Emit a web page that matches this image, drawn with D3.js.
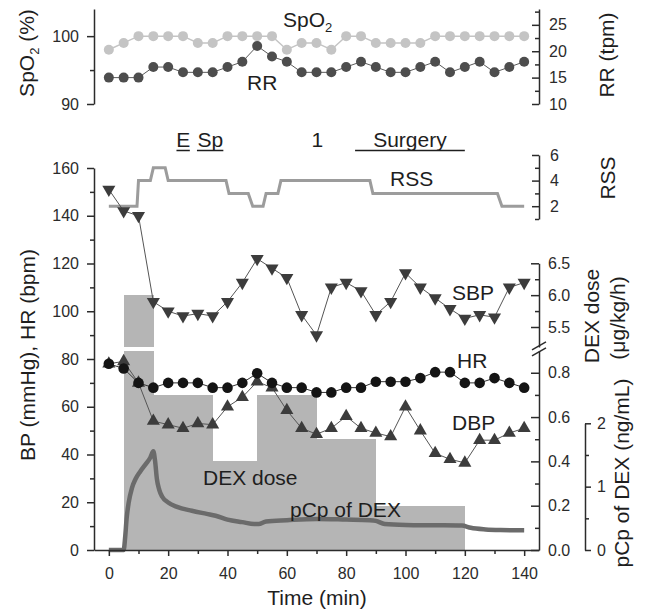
<!DOCTYPE html>
<html>
<head>
<meta charset="utf-8">
<script src="https://cdn.jsdelivr.net/npm/d3@7"></script>
<style>
  body { margin: 0; background: #fff; }
  svg { font-family: "Liberation Sans", Arial, sans-serif; }
  .axis path, .axis line { stroke: #2b2b2b; stroke-width: 1.5; }
  .axis text { font-size: 16px; fill: #2b2b2b; }
  .label { font-size: 21px; fill: #1e1e1e; }
</style>
</head>
<body>
<svg id="chart" width="646" height="613"></svg>
<script>
// Sampling times (min), one reading every 5 min
const times = [0, 5, 10, 15, 20, 25, 30, 35, 40, 45, 50, 55, 60, 65, 70,
  75, 80, 85, 90, 95, 100, 105, 110, 115, 120, 125, 130, 135, 140];

// Top panel
const spo2 = [98, 99, 100, 100, 100, 100, 99, 99, 100, 100, 100, 100, 98, 99, 99,
  98, 100, 100, 99, 99, 99, 99, 100, 100, 100, 100, 100, 100, 100];
const rr = [15, 15, 15, 17, 17, 16, 16, 16, 17, 18, 21, 19, 18, 16, 16,
  16, 17, 18, 17, 16, 16, 17, 18, 16, 17, 18, 16, 17, 18];

// Main panel, mmHg / bpm
const sbp = [151, 142, 140, 104, 100, 98, 99, 98, 104, 112, 122, 118, 114, 98.5, 90,
  110, 112, 108.5, 98.5, 104, 116, 110, 105.5, 101, 97, 98.5, 97.5, 110, 112];
const dbp = [78, 79, 70, 54, 52.5, 51, 53, 52.5, 60, 64, 70.5, 68, 58.5, 51, 48.5,
  51, 56, 51, 49, 47.5, 60, 50, 40.5, 38, 36.5, 46, 46, 49, 51];
const hr = [78, 76, 70, 68, 70, 70, 70, 68, 68, 70, 74, 70, 68, 68, 66,
  66, 68, 68, 70.5, 70.5, 70.5, 72, 74.5, 74.5, 70, 70, 72, 70, 68];

// Ramsay sedation score, step trace
const rssTimes = [0, 9.5, 10, 14, 15, 19, 20, 39.5, 40.5, 47, 48.5, 52, 53, 57, 58,
  88, 89, 131, 132.5, 140];
const rssValues = [2, 2, 4, 4, 5, 5, 4, 4, 3, 3, 2, 2, 3, 3, 4, 4, 3, 3, 2, 2];

// DEX infusion rate (ug/kg/h)
const doseStart = [5, 15, 35, 50, 70, 90];
const doseEnd = [15, 35, 50, 70, 90, 120];
const doseRate = [6.0, 0.7, 0.4, 0.7, 0.5, 0.2];

// Predicted plasma concentration of DEX (ng/mL)
const pcpTimes = [0, 5, 5.5, 6, 6.7, 7.8, 9, 10.6, 12.5, 14, 15, 15.6, 16.2, 17, 18,
  20, 23, 28, 33, 36, 40, 45, 49, 50.5, 53, 60, 70, 80, 88, 90, 93, 100, 110, 119,
  122, 127, 132, 140];
const pcpValues = [0, 0, 0.2, 0.5, 0.75, 0.98, 1.12, 1.24, 1.36, 1.46, 1.56, 1.4, 1.12,
  0.95, 0.84, 0.75, 0.68, 0.62, 0.57, 0.54, 0.48, 0.44, 0.41, 0.41, 0.45, 0.47, 0.49,
  0.48, 0.47, 0.46, 0.41, 0.395, 0.39, 0.385, 0.35, 0.325, 0.315, 0.31];

// Procedure phases drawn above the main panel
const phaseText = ["E", "Sp", "1", "Surgery"];
const phaseFrom = [22.8, 29.7, null, 83];
const phaseTo = [27.3, 38.6, null, 120];
const phaseMid = [25.1, 34.2, 70.3, 101.5];

const svg = d3.select("#chart");

// Plot frame
const LEFT = 94, RIGHT = 539;
const x = d3.scaleLinear().domain([-5, 145]).range([LEFT, RIGHT]);

const ySpo2 = d3.scaleLinear().domain([90, 104]).range([104, 9]);
const yRR = d3.scaleLinear().domain([10, 28]).range([104, 9]);
const yBP = d3.scaleLinear().domain([0, 160]).range([550, 168]);
const yRSS = d3.scaleLinear().domain([1, 6]).range([219, 155]);
const yPcp = d3.scaleLinear().domain([0, 2]).range([550, 423.3]);
// DEX dose axis is broken in two pieces
const yDoseLo = d3.scaleLinear().domain([0, 0.9]).range([550, 350.6]);
const yDoseHi = d3.scaleLinear().domain([5.5, 6.5]).range([327, 263.3]);
const DOSE_HI_BOTTOM = 347;

function drawAxis(gen, scale, tx, ty, major, minor, size, minorSize, pad, fmt) {
  const g = svg.append("g").attr("class", "axis")
    .attr("transform", `translate(${tx},${ty})`);
  g.call(gen(scale).tickValues(major).tickSize(size).tickSizeOuter(0)
    .tickPadding(pad).tickFormat(fmt));
  if (minor.length) {
    g.append("g").call(gen(scale).tickValues(minor).tickSize(minorSize)
      .tickFormat(() => ""))
      .select(".domain").remove();
  }
  g.selectAll("text").attr("fill", "#2b2b2b").attr("font-size", 16);
  return g;
}

// ---------- Top panel: SpO2 and RR ----------
drawAxis(d3.axisLeft, ySpo2, LEFT, 0, [90, 100], [95], 7, 4, 8, d3.format("d"));
drawAxis(d3.axisRight, yRR, RIGHT, 0, [10, 15, 20, 25], [12.5, 17.5, 22.5, 27.5],
  -7, -4, 10, d3.format("d"));

function markerSeries(values, yScale, color, lineColor, lineWidth, symbolFn) {
  const pts = d3.zip(times, values);
  svg.append("path")
    .datum(pts)
    .attr("fill", "none")
    .attr("stroke", lineColor)
    .attr("stroke-width", lineWidth)
    .attr("d", d3.line().x((d) => x(d[0])).y((d) => yScale(d[1])));
  symbolFn(svg.append("g").selectAll().data(pts).join("path"), yScale, color);
}

const circle = (r) => (sel, yScale, color) => sel
  .attr("d", d3.symbol(d3.symbolCircle, Math.PI * r * r)())
  .attr("fill", color)
  .attr("transform", (d) => `translate(${x(d[0])},${yScale(d[1])})`);

const triangle = (down) => (sel, yScale, color) => sel
  .attr("d", d3.symbol(d3.symbolTriangle, 74)())
  .attr("fill", color)
  .attr("transform", (d) =>
    `translate(${x(d[0])},${yScale(d[1])})` + (down ? " rotate(180)" : ""));

markerSeries(spo2, ySpo2, "#c4c4c4", "#c4c4c4", 1.5, circle(5));
markerSeries(rr, yRR, "#4d4d4d", "#5a5a5a", 1, circle(5));

// ---------- Main panel ----------
// DEX dose bars, the first one crosses the axis break
const doseBars = d3.zip(doseStart, doseEnd, doseRate);
const gBars = svg.append("g").attr("fill", "#b5b5b5").attr("shape-rendering", "crispEdges");
doseBars.forEach(([s, e, v]) => {
  const loMax = yDoseLo.domain()[1];
  gBars.append("rect")
    .attr("x", x(s)).attr("width", x(e) - x(s) + 0.5)
    .attr("y", yDoseLo(Math.min(v, loMax)))
    .attr("height", yDoseLo(0) - yDoseLo(Math.min(v, loMax)));
  if (v > loMax) {
    gBars.append("rect")
      .attr("x", x(s)).attr("width", x(e) - x(s) + 0.5)
      .attr("y", yDoseHi(v))
      .attr("height", DOSE_HI_BOTTOM - yDoseHi(v));
  }
});

// pCp curve
svg.append("path")
  .datum(d3.zip(pcpTimes, pcpValues))
  .attr("fill", "none")
  .attr("stroke", "#6b6b6b")
  .attr("stroke-width", 4.5)
  .attr("stroke-linejoin", "round")
  .attr("d", d3.line().curve(d3.curveMonotoneX)
    .x((d) => x(d[0])).y((d) => yPcp(d[1])));

// RSS trace
svg.append("path")
  .datum(d3.zip(rssTimes, rssValues))
  .attr("fill", "none")
  .attr("stroke", "#9c9c9c")
  .attr("stroke-width", 3)
  .attr("d", d3.line().x((d) => x(d[0])).y((d) => yRSS(d[1])));

markerSeries(sbp, yBP, "#3c3c3c", "#555", 1, triangle(true));
markerSeries(dbp, yBP, "#3c3c3c", "#555", 1, triangle(false));
markerSeries(hr, yBP, "#141414", "#333", 1, circle(5.3));

// Axes
drawAxis(d3.axisLeft, yBP, LEFT, 0, d3.range(0, 161, 20), d3.range(10, 160, 20),
  7, 4, 8, d3.format("d"));
drawAxis(d3.axisBottom, x, 0, 550,
  d3.range(0, 141, 20), d3.range(10, 140, 20), 6, 4, 12, d3.format("d"));
drawAxis(d3.axisRight, yRSS, RIGHT, 0, [2, 4, 6], [1, 3, 5], -7, -4, 11, d3.format("d"));
drawAxis(d3.axisRight, yDoseLo, RIGHT, 0, [0, 0.2, 0.4, 0.6, 0.8], [0.1, 0.3, 0.5, 0.7],
  -8, -4, 9, d3.format(".1f"));
drawAxis(d3.axisRight,
  yDoseHi.copy().domain([yDoseHi.invert(DOSE_HI_BOTTOM), 6.5]).range([DOSE_HI_BOTTOM, 263.3]),
  RIGHT, 0, [5.5, 6.0, 6.5], [5.75, 6.25], -8, -4, 9, d3.format(".1f"));
drawAxis(d3.axisRight, yPcp, 585, 0, [0, 1, 2], [0.5, 1.5], 6, 4, 6, d3.format("d"));

// Break marks on the dose axis
const breakY = (DOSE_HI_BOTTOM + yDoseLo.range()[1]) / 2;
svg.append("g").attr("stroke", "#2b2b2b").attr("stroke-width", 1.5)
  .selectAll("line").data([-3, 3]).join("line")
  .attr("x1", RIGHT - 7).attr("x2", RIGHT + 7)
  .attr("y1", (d) => breakY + d + 4).attr("y2", (d) => breakY + d - 4);

// Phase annotations
phaseText.forEach((t, i) => {
  svg.append("text").attr("class", "label")
    .attr("x", x(phaseMid[i])).attr("y", 147)
    .attr("text-anchor", "middle").text(t);
  if (phaseFrom[i] !== null) {
    svg.append("line")
      .attr("x1", x(phaseFrom[i])).attr("x2", x(phaseTo[i]))
      .attr("y1", 150.5).attr("y2", 150.5)
      .attr("stroke", "#1e1e1e").attr("stroke-width", 1.5);
  }
});

// Series labels
function label(txt, px, py) {
  return svg.append("text").attr("class", "label").attr("x", px).attr("y", py).text(txt);
}
const spo2Label = label("SpO", 283, 27);
spo2Label.append("tspan").attr("font-size", 13).attr("dy", 5).text("2");
label("RR", 247, 90);
label("RSS", 390, 186);
label("SBP", 452, 300);
label("HR", 457, 368);
label("DBP", 452, 430);
label("DEX dose", 203, 485);
label("pCp of DEX", 290, 517);

// Axis titles
function vTitle(cx, cy) {
  return svg.append("text").attr("class", "label")
    .attr("transform", `translate(${cx},${cy}) rotate(-90)`)
    .attr("text-anchor", "middle").attr("dy", "0.35em");
}
const spTitle = vTitle(27, 53);
spTitle.append("tspan").text("SpO");
spTitle.append("tspan").attr("font-size", 13).attr("dy", 5).text("2");
spTitle.append("tspan").attr("dy", -5).text(" (%)");
vTitle(28, 355).text("BP (mmHg), HR (bpm)");
vTitle(607, 55).text("RR (tpm)");
vTitle(608, 178).text("RSS");
vTitle(592, 316).text("DEX dose");
vTitle(618, 318).text("(\u03bcg/kg/h)");
vTitle(622, 473).text("pCp of DEX (ng/mL)");
svg.append("text").attr("class", "label")
  .attr("x", 317).attr("y", 605).attr("text-anchor", "middle").text("Time (min)");
</script>
</body>
</html>
